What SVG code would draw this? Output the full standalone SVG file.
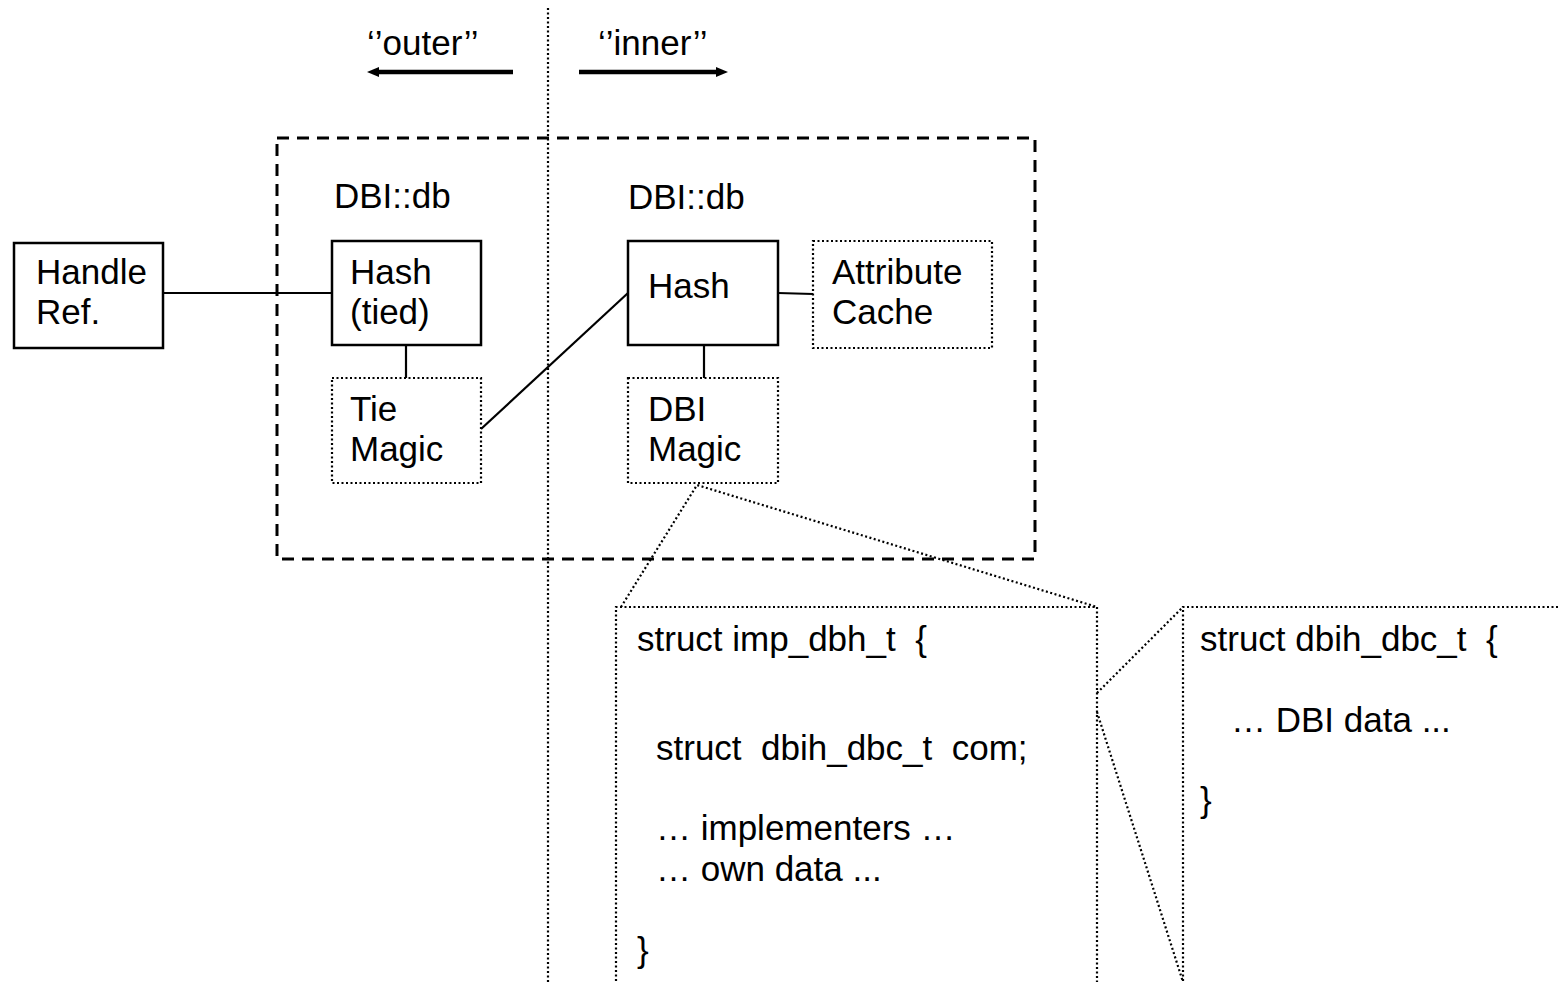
<svg xmlns="http://www.w3.org/2000/svg" width="1559" height="982" viewBox="0 0 1559 982">
<defs>
<style>
text{font-family:"Liberation Sans",Arial,sans-serif;font-size:35px;fill:#000}
.solid{fill:#fff;stroke:#000;stroke-width:2.5}
.dot{fill:none;stroke:#000;stroke-width:2.2;stroke-dasharray:2 2.5}
.line{fill:none;stroke:#000;stroke-width:2.2}
.dash{fill:none;stroke:#000;stroke-width:3;stroke-dasharray:12 8}
.arrow{fill:none;stroke:#000;stroke-width:4.5}
</style>
<marker id="ah" viewBox="0 0 12 12" refX="2" refY="6" markerWidth="12" markerHeight="12" markerUnits="userSpaceOnUse" orient="auto">
<path d="M0,1 L12,6 L0,11 z" fill="#000"/>
</marker>
</defs>
<rect width="1559" height="982" fill="#fff"/>

<g id="header">
<line class="dot" x1="548" y1="8" x2="548" y2="982"/>
<text x="367" y="55">‘’outer’’</text>
<text x="598" y="55">‘’inner’’</text>
<line class="arrow" x1="513" y1="72" x2="377" y2="72" marker-end="url(#ah)"/>
<line class="arrow" x1="579" y1="72" x2="718" y2="72" marker-end="url(#ah)"/>
</g>

<g id="container">
<rect class="dash" x="277" y="138" width="758" height="421"/>
<text x="334" y="208">DBI::db</text>
<text x="628" y="209">DBI::db</text>
</g>

<g id="connectors">
<line class="line" x1="163" y1="293" x2="332" y2="293"/>
<line class="line" x1="406" y1="345" x2="406" y2="378"/>
<line class="line" x1="481" y1="429" x2="628" y2="293"/>
<line class="line" x1="778" y1="293" x2="813" y2="294"/>
<line class="line" x1="704" y1="345" x2="704" y2="378"/>
<polyline class="dot" points="621,607 697,485 1097,607"/>
<line class="dot" x1="1097" y1="693" x2="1183" y2="607"/>
<line class="dot" x1="1097" y1="712" x2="1183" y2="982"/>
</g>

<g id="handle-ref">
<rect class="solid" x="14" y="243" width="149" height="105"/>
<text x="36" y="284">Handle</text>
<text x="36" y="324">Ref.</text>
</g>

<g id="hash-tied">
<rect class="solid" x="332" y="241" width="149" height="104"/>
<text x="350" y="284">Hash</text>
<text x="350" y="324">(tied)</text>
</g>

<g id="tie-magic">
<rect class="dot" x="332" y="378" width="149" height="105"/>
<text x="350" y="421">Tie</text>
<text x="350" y="461">Magic</text>
</g>

<g id="hash">
<rect class="solid" x="628" y="241" width="150" height="104"/>
<text x="648" y="298">Hash</text>
</g>

<g id="attribute-cache">
<rect class="dot" x="813" y="241" width="179" height="107"/>
<text x="832" y="284">Attribute</text>
<text x="832" y="324">Cache</text>
</g>

<g id="dbi-magic">
<rect class="dot" x="628" y="378" width="150" height="105"/>
<text x="648" y="421">DBI</text>
<text x="648" y="461">Magic</text>
</g>

<g id="imp-dbh-t">
<path class="dot" d="M616,990 V607 H1097 V990"/>
<text x="637" y="651" xml:space="preserve">struct imp_dbh_t  {</text>
<text x="656" y="760" xml:space="preserve">struct  dbih_dbc_t  com;</text>
<text x="656" y="840">… implementers …</text>
<text x="656" y="881">… own data ...</text>
<text x="637" y="962">}</text>
</g>

<g id="dbih-dbc-t">
<path class="dot" d="M1183,990 V607 H1565"/>
<text x="1200" y="651" xml:space="preserve">struct dbih_dbc_t  {</text>
<text x="1231" y="732">… DBI data ...</text>
<text x="1200" y="812">}</text>
</g>
</svg>
